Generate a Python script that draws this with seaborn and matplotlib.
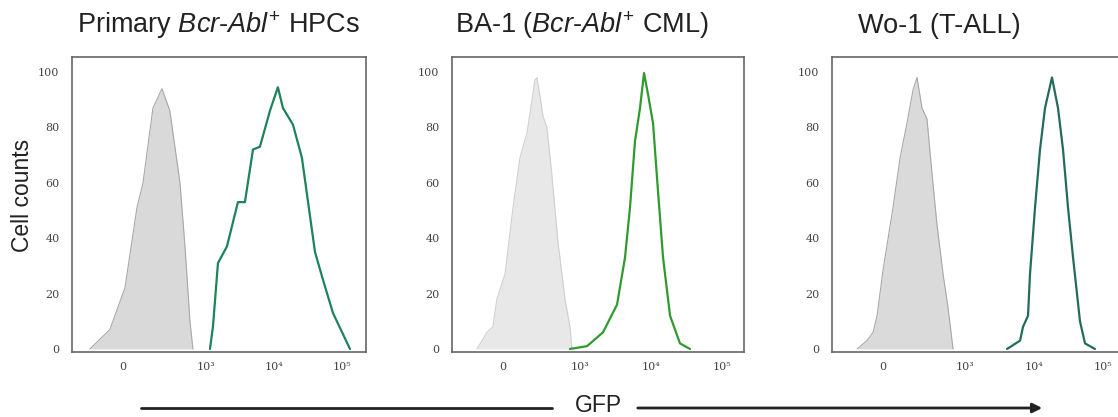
import numpy as np
import pandas as pd
import seaborn as sns
import matplotlib.pyplot as plt
from matplotlib.ticker import FixedLocator, FixedFormatter

sns.set_style("white")
plt.rcParams['font.family'] = ['Liberation Sans', 'DejaVu Sans']
plt.rcParams['mathtext.fontset'] = 'custom'
plt.rcParams['mathtext.rm'] = 'Liberation Sans'
plt.rcParams['mathtext.it'] = 'Liberation Sans:italic'

# panel titles
titles = [r"Primary $\mathit{Bcr}$-$\mathit{Abl}^{+}$ HPCs",
          r"BA-1 ($\mathit{Bcr}$-$\mathit{Abl}^{+}$ CML)",
          "Wo-1 (T-ALL)"]

# unstained control (grey), GFP intensity vs % of max
ctrl1_x = [-164, -55, 8, 59, 88, 144, 209, 281, 405, 483, 574, 636]
ctrl1_y = [0, 7, 22, 51, 60, 87, 94, 86, 60, 37, 10, 0]
ctrl2_x = [-157, -90, -55, -33, 11, 55, 96, 143, 205, 223, 282, 325, 388, 478, 609, 719, 769]
ctrl2_y = [0, 6, 8, 18, 27, 51, 69, 78, 97, 98, 84, 80, 63, 39, 18, 8, 0]
ctrl3_x = [-127, -73, -44, -26, 0, 44, 78, 115, 153, 181, 221, 267, 320, 382, 473, 561, 666]
ctrl3_y = [0, 3, 6, 12, 28.5, 51, 69, 81.5, 93.5, 98, 87, 83, 63.5, 45, 27, 15, 0]

# GFP+ cells (green)
gfp1_x = [1139, 1261, 1495, 2028, 2943, 3730, 4900, 6200, 8710, 11400, 13500, 18970,
          25700, 40000, 52400, 73500, 130700]
gfp1_y = [0, 8, 31, 37, 53, 53, 72, 73, 86, 94.5, 87, 81, 69, 35, 25, 13, 0]
gfp2_x = [719, 1260, 2125, 3350, 4340, 5100, 6000, 7060, 8040, 9140, 10770, 12650,
          14900, 18700, 25800, 35700]
gfp2_y = [0, 1, 6, 16, 33, 51, 75, 87, 99.6, 92, 81.5, 57, 33, 12, 2, 0]
gfp3_x = [4075, 6290, 6950, 8210, 8770, 10370, 12250, 14480, 18270, 22330, 26400,
          31200, 36900, 46500, 55000, 76700]
gfp3_y = [0, 3, 8, 12, 27, 51, 72, 87, 98, 87, 72, 51, 33, 10, 2, 0]

ctrl = [(ctrl1_x, ctrl1_y), (ctrl2_x, ctrl2_y), (ctrl3_x, ctrl3_y)]
gfp = [(gfp1_x, gfp1_y), (gfp2_x, gfp2_y), (gfp3_x, gfp3_y)]

xticks = [0, 1e3, 1e4, 1e5]
xticklabels = ["0", "10³", "10⁴", "10⁵"]
yticks = [0, 20, 40, 60, 80, 100]

# biexponential-like display settings per panel
lin_width = [120, 166, 130]
xlims = [(-326, 225000), (-417, 205600), (-345, 216000)]
fill_col = ['#d9d9d9', '#e8e8e8', '#dadada']
edge_col = ['#a8a8a8', '#cfcfcf', '#a8a8a8']
line_col = ['#1d8358', '#2f9a2f', '#236c5c']

fig = plt.figure(figsize=(11.18, 4.17), dpi=100)
lefts = [72 / 1118, 452 / 1118, 832 / 1118]
widths = [294 / 1118, 292 / 1118, 294 / 1118]
title_x = [0.017, 0.010, 0.088]

for i in range(3):
    ax = fig.add_axes([lefts[i], 65 / 417, widths[i], 295 / 417])
    ax.set_xscale('asinh', linear_width=lin_width[i])

    cdf = pd.DataFrame({'x': ctrl[i][0], 'y': ctrl[i][1]})
    gdf = pd.DataFrame({'x': gfp[i][0], 'y': gfp[i][1]})
    ax.fill_between(cdf['x'], 0, cdf['y'], color=fill_col[i], lw=0)
    sns.lineplot(data=cdf, x='x', y='y', ax=ax, color=edge_col[i], lw=0.8)
    sns.lineplot(data=gdf, x='x', y='y', ax=ax, color=line_col[i], lw=1.6)

    ax.set_xlim(xlims[i])
    ax.set_ylim(-1.1, 105.4)
    ax.xaxis.set_major_locator(FixedLocator(xticks))
    ax.xaxis.set_major_formatter(FixedFormatter(xticklabels))
    ax.xaxis.set_minor_locator(FixedLocator([]))
    ax.set_yticks(yticks)
    ax.tick_params(axis='both', length=0, labelsize=8, labelcolor='#444')
    ax.tick_params(axis='x', pad=7)
    ax.tick_params(axis='y', pad=9)
    for lab in ax.get_xticklabels() + ax.get_yticklabels():
        lab.set_family('DejaVu Serif')
    ax.set_xlabel('')
    ax.set_ylabel('')
    for sp in ax.spines.values():
        sp.set_color('#666666')
        sp.set_linewidth(1.2)
    ax.text(title_x[i], 1.081, titles[i], transform=ax.transAxes,
            ha='left', va='baseline', fontsize=19.5, color='#222')

fig.text(23 / 1118, 0.532, 'Cell counts', rotation=90, ha='center', va='center',
         fontsize=16.5, color='#222')

# GFP axis arrow
y_arr = 9 / 417
fig.add_artist(plt.Line2D([141 / 1118, 552 / 1118], [y_arr, y_arr],
                          transform=fig.transFigure, color='#222', lw=2))
fig.patches.append(plt.matplotlib.patches.FancyArrowPatch(
    (635 / 1118, y_arr), (1045 / 1118, y_arr), transform=fig.transFigure,
    arrowstyle='-|>', mutation_scale=14, color='#222', lw=2))
fig.text(598 / 1118, 11 / 417, 'GFP', ha='center', va='center', fontsize=16.5, color='#222')

fig.savefig('out.png', dpi=100)
